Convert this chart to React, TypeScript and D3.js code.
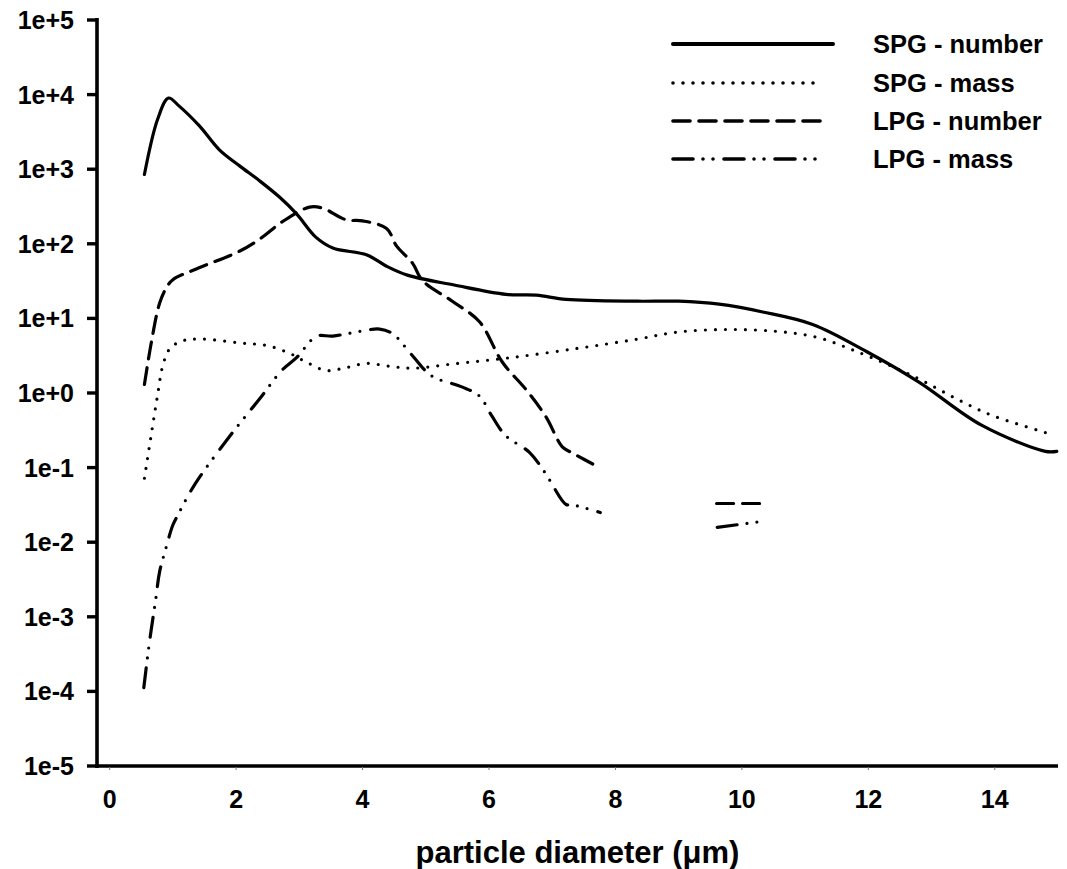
import React from "react";
import * as d3 from "d3";

type Pt = [number, number | null];

const spgNumber: Pt[] = [
  [0.55, 850], [0.76, 4700], [0.93, 9000], [1.1, 7000], [1.42, 3800], [1.74, 1800],
  [2.06, 1100], [2.37, 700], [2.69, 420], [2.96, 250], [3.26, 123], [3.53, 88],
  [4.07, 71], [4.38, 50], [4.71, 38], [5.45, 28], [6.27, 21], [6.75, 20.5],
  [7.22, 18], [8.35, 17], [9.0, 17], [9.64, 15.5], [10.33, 12.2], [11.12, 8.3],
  [11.97, 3.6], [12.8, 1.4], [13.79, 0.37], [14.8, 0.165], [14.98, 0.165],
];

const spgMass: Pt[] = [
  [0.55, 0.072], [0.65, 0.25], [0.75, 0.85], [0.85, 2.5], [0.96, 4.0], [1.15, 5.0],
  [1.42, 5.3], [2.06, 4.7], [2.5, 4.3], [2.85, 3.4], [3.11, 2.6], [3.43, 2.0],
  [3.75, 2.2], [4.06, 2.5], [4.4, 2.3], [4.79, 2.15], [5.42, 2.45], [6.37, 3.0],
  [7.43, 4.0], [8.3, 5.2], [9.01, 6.6], [9.8, 7.1], [10.55, 6.7], [11.18, 5.6],
  [11.78, 3.7], [12.7, 1.7], [13.49, 0.76], [13.96, 0.5], [14.83, 0.29],
];

const lpgNumber: Pt[] = [
  [0.55, 1.3], [0.66, 4.8], [0.79, 16], [0.9, 26], [1.0, 33], [1.37, 46],
  [2.06, 80], [2.4, 120], [2.74, 200], [3.16, 310], [3.37, 300], [3.74, 210],
  [4.0, 203], [4.38, 160], [4.54, 93], [4.79, 55], [4.95, 32], [5.42, 17],
  [5.85, 9], [6.21, 2.6], [6.59, 1.1], [6.9, 0.48], [7.16, 0.19], [7.3, 0.16],
  [7.75, 0.1], [8.7, null], [9.6, 0.033], [10.33, 0.033],
];

const lpgMass: Pt[] = [
  [0.54, 1.12e-4], [0.63, 4.6e-4], [0.73, 1.74e-3], [0.79, 4e-3], [0.9, 8.9e-3],
  [1.0, 0.017], [1.1, 0.025], [1.26, 0.045], [1.42, 0.074], [1.95, 0.3],
  [2.37, 0.83], [2.72, 2.0], [2.96, 3.0], [3.27, 5.75], [3.53, 5.8], [4.0, 6.8],
  [4.27, 7.2], [4.48, 6.2], [4.79, 3.16], [5.09, 1.7], [5.58, 1.2], [5.85, 0.91],
  [6.04, 0.5], [6.26, 0.27], [6.64, 0.16], [6.88, 0.087], [7.22, 0.032],
  [7.3, 0.032], [7.76, 0.025], [8.7, null], [9.61, 0.0158], [10.32, 0.019],
];

const xTicks = [0, 2, 4, 6, 8, 10, 12, 14];
const yTicks = [1e5, 1e4, 1e3, 1e2, 1e1, 1e0, 1e-1, 1e-2, 1e-3, 1e-4, 1e-5];
const yTickLabels = ["1e+5", "1e+4", "1e+3", "1e+2", "1e+1", "1e+0", "1e-1", "1e-2", "1e-3", "1e-4", "1e-5"];

const seriesNames = ["SPG - number", "SPG - mass", "LPG - number", "LPG - mass"];
const seriesData = [spgNumber, spgMass, lpgNumber, lpgMass];
const dashes = ["", "0 10", "17 9", "20 10 0 10 0 11"];
const caps: ("butt" | "round")[] = ["round", "round", "round", "round"];

const FONT = "'Liberation Sans', Arial, Helvetica, sans-serif";

export default function App() {
  const x = d3.scaleLinear().domain([-0.2, 15]).range([97, 1058]);
  const y = d3.scaleLog().domain([1e-5, 1e5]).range([766, 20]);

  const line = d3
    .line<Pt>()
    .defined((d) => d[1] !== null)
    .x((d) => x(d[0]))
    .y((d) => y(d[1] as number))
    .curve(d3.curveCatmullRom.alpha(0.5));

  const legendX0 = 673;
  const legendX1 = 833;
  const legendYs = [44, 83, 121, 159];

  return (
    <svg
      width={1067}
      height={869}
      style={{ position: "absolute", left: 0, top: 0, background: "#fff" }}
      fontFamily={FONT}
      fontWeight="bold"
    >
      <rect x={0} y={0} width={1067} height={869} fill="#fff" />
      {/* series */}
      {seriesData.map((data, i) => (
        <path
          key={i}
          d={line(data) || ""}
          fill="none"
          stroke="#000"
          strokeWidth={3.2}
          strokeDasharray={dashes[i] || undefined}
          strokeLinecap={caps[i]}
          strokeLinejoin="round"
        />
      ))}
      {/* axes */}
      <line x1={97} y1={18} x2={97} y2={768} stroke="#000" strokeWidth={3.6} />
      <line x1={95.2} y1={766} x2={1058} y2={766} stroke="#000" strokeWidth={3.6} />
      {yTicks.map((t, i) => (
        <g key={i}>
          <line x1={87} x2={97} y1={y(t)} y2={y(t)} stroke="#000" strokeWidth={3.4} />
          <text x={74} y={y(t)} dy="0.36em" textAnchor="end" fontSize={25}>
            {yTickLabels[i]}
          </text>
        </g>
      ))}
      {xTicks.map((t, i) => (
        <g key={i}>
          <line x1={x(t)} x2={x(t)} y1={767} y2={770} stroke="#777" strokeWidth={1} />
          <text x={x(t)} y={808} textAnchor="middle" fontSize={25}>
            {t}
          </text>
        </g>
      ))}
      <text x={(97 + 1058) / 2} y={863} textAnchor="middle" fontSize={31}>
        particle diameter (μm)
      </text>
      {/* legend */}
      {seriesNames.map((name, i) => (
        <g key={name}>
          <line
            x1={legendX0}
            x2={i === 0 ? legendX1 : 823}
            y1={legendYs[i]}
            y2={legendYs[i]}
            stroke="#000"
            strokeWidth={i === 0 ? 4 : 3.6}
            strokeDasharray={dashes[i] || undefined}
            strokeLinecap={caps[i]}
          />
          <text x={873} y={legendYs[i]} dy="0.36em" fontSize={25.5}>
            {name}
          </text>
        </g>
      ))}
    </svg>
  );
}
